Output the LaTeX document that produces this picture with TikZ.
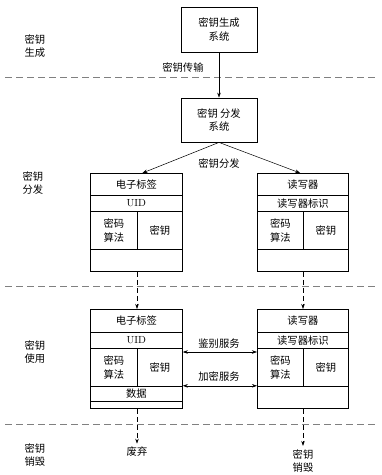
\documentclass[tikz,border=0pt]{standalone}
\usepackage{fontspec}
\newfontfamily\cjk{Noto Sans CJK SC}
\usetikzlibrary{arrows.meta,positioning,calc}

\tikzset{
    box/.style={draw, line width=0.8pt, inner sep=0pt, align=center,
        minimum width=76pt, minimum height=45pt},
    cell/.style={draw, line width=0.8pt, inner sep=0pt, align=center, anchor=north west},
    stage/.style={align=center},
    sep/.style={gray, line width=0.8pt, dash pattern=on 7pt off 4pt},
    flow/.style={line width=0.5pt, -{Stealth[length=5pt, width=3.5pt]}},
    dflow/.style={line width=0.5pt, dash pattern=on 5pt off 3pt, -{Stealth[length=5pt, width=3.5pt]}},
    both/.style={line width=0.5pt, {Stealth[length=5pt, width=3.5pt]}-{Stealth[length=5pt, width=3.5pt]}},
}

\begin{document}
\begin{tikzpicture}[x=1pt, y=-1pt, font=\cjk\fontsize{10.3}{13.5}\selectfont]
    \useasboundingbox (0,0) rectangle (382,475);

    % stage separators
    \draw[sep] (5,77) -- (377,77);
    \draw[sep] (5,286) -- (377,286);
    \draw[sep] (5,424) -- (377,424);

    % stage names
    \node[stage] (sgen) at (35,46) {密钥\\生成};
    \node[stage] (sdist) at (33,183) {密钥\\分发};
    \node[stage] (suse) at (35,352) {密钥\\使用};
    \node[stage] (sdel) at (35,455) {密钥\\销毁};

    % generation and distribution systems
    \node[box] (gen) at (219,29.5) {密钥生成\\系统};
    \node[box, minimum height=44pt] (dist) at (219,120) {密钥 分发\\系统};

    % tag, distribution stage
    \node[cell, minimum width=92pt, minimum height=22pt] (tdh) at (90,173) {电子标签};
    \node[cell, minimum width=92pt, minimum height=16pt] (tdu) at (90,195) {\rmfamily UID};
    \node[cell, minimum width=47pt, minimum height=38pt] (tda) at (90,211) {密码\\算法};
    \node[cell, minimum width=45pt, minimum height=38pt] (tdk) at (137,211) {密钥};
    \node[cell, minimum width=92pt, minimum height=22pt] (tdb) at (90,249) {};

    % reader, distribution stage
    \node[cell, minimum width=91pt, minimum height=22pt] (rdh) at (257,173) {读写器};
    \node[cell, minimum width=91pt, minimum height=16pt] (rdu) at (257,195) {读写器标识};
    \node[cell, minimum width=46pt, minimum height=38pt] (rda) at (257,211) {密码\\算法};
    \node[cell, minimum width=45pt, minimum height=38pt] (rdk) at (303,211) {密钥};
    \node[cell, minimum width=91pt, minimum height=22pt] (rdb) at (257,249) {};

    % tag, use stage
    \node[cell, minimum width=92pt, minimum height=23pt] (tuh) at (90,309) {电子标签};
    \node[cell, minimum width=92pt, minimum height=16pt] (tuu) at (90,332) {\rmfamily UID};
    \node[cell, minimum width=47pt, minimum height=38pt] (tua) at (90,348) {密码\\算法};
    \node[cell, minimum width=45pt, minimum height=38pt] (tuk) at (137,348) {密钥};
    \node[cell, minimum width=92pt, minimum height=15pt] (tud) at (90,386) {数据};
    \node[cell, minimum width=92pt, minimum height=7pt] (tub) at (90,401) {};

    % reader, use stage
    \node[cell, minimum width=91pt, minimum height=23pt] (ruh) at (257,309) {读写器};
    \node[cell, minimum width=91pt, minimum height=16pt] (ruu) at (257,332) {读写器标识};
    \node[cell, minimum width=46pt, minimum height=38pt] (rua) at (257,348) {密码\\算法};
    \node[cell, minimum width=45pt, minimum height=38pt] (ruk) at (303,348) {密钥};
    \node[cell, minimum width=91pt, minimum height=22pt] (rub) at (257,386) {};

    % end of life
    \node[stage] (drop) at (137,452) {废弃};
    \node[stage] (kill) at (303,461) {密钥\\销毁};

    % connectors
    \draw[flow] (gen.south) -- (dist.north);
    \node (trans) at (183,68) {密钥传输};
    \draw[flow] (dist.south) -- ($(tdh.north west)!0.565!(tdh.north east)$);
    \draw[flow] (dist.south) -- ($(rdh.north west)!0.47!(rdh.north east)$);
    \node (deal) at (219,164) {密钥分发};

    \draw[dflow] (tdb.south -| tdk.west) -- (tuh.north -| tdk.west);
    \draw[dflow] (rdb.south -| rdk.west) -- (ruh.north -| rdk.west);

    \draw[both] ($(tuk.north east)+(0,4)$) -- ($(rua.north west)+(0,4)$);
    \node (auth) at (219,344) {鉴别服务};
    \draw[both] ($(tuk.south east)+(0,-1)$) -- ($(rua.south west)+(0,-1)$);
    \node (enc) at (219,377) {加密服务};

    \draw[dflow] (tub.south -| tuk.west) -- (drop.north);
    \draw[dflow] (rub.south -| ruk.west) -- (kill.north);
\end{tikzpicture}
\end{document}
